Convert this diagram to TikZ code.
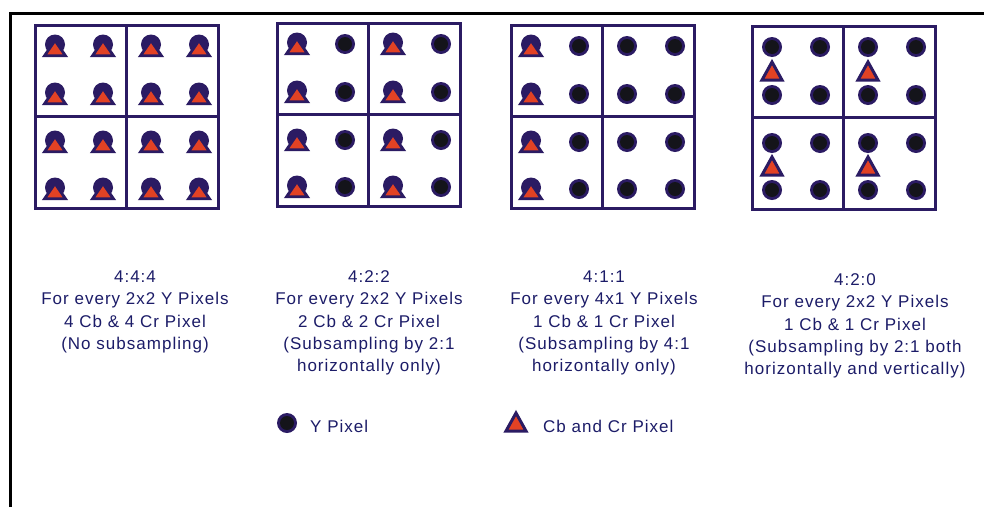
\documentclass[tikz,border=0pt]{standalone}
\usepackage{fontspec}
\newfontfamily\lblfont[LetterSpace=6]{Liberation Sans}
\definecolor{navy}{RGB}{43,27,99}
\definecolor{chroma}{RGB}{226,66,36}
\definecolor{dotblack}{RGB}{20,20,26}
\definecolor{txtblue}{RGB}{28,28,104}
\tikzset{
  gridline/.style={draw=navy, line width=3pt},
  frameline/.style={draw=black, line width=3pt},
  lbl/.style={font=\lblfont\fontsize{17}{22.3}\selectfont, text=txtblue, align=center, inner sep=0pt},
  leg/.style={font=\lblfont\fontsize{17}{22.3}\selectfont, text=txtblue, inner sep=0pt, anchor=west},
  tri/.style={draw=navy, fill=chroma, line width=3pt, line join=miter},
}
\newcommand{\pixY}[2]{\fill[navy] (#1,#2) circle (10pt); \fill[dotblack] (#1,#2) circle (7pt);}
\newcommand{\pixC}[2]{\filldraw[tri] ({#1-10},{#2+9}) -- ({#1+10},{#2+9}) -- (#1,{#2-9}) -- cycle;}
\newcommand{\pixYC}[2]{\fill[navy] (#1,{#2-1.5}) circle (10pt);
  \filldraw[tri, line width=2.8pt] ({#1-10.5},{#2+9.8}) -- ({#1+10.5},{#2+9.8}) -- (#1,{#2-5.5}) -- cycle;}
\newcommand{\gridbox}[2]{\draw[gridline] (#1,#2) rectangle ({#1+183},{#2+183});
  \draw[gridline] ({#1+91.5},#2) -- ({#1+91.5},{#2+183});
  \draw[gridline] (#1,{#2+91.5}) -- ({#1+183},{#2+91.5});}
\begin{document}
\begin{tikzpicture}[x=1pt,y=-1pt]
\useasboundingbox[fill=white] (0,0) rectangle (984,507);
\draw[frameline] (10,507) -- (10,13.5) -- (984,13.5);
% grid 1 : 4:4:4
\gridbox{35}{25}
\foreach \dx in {20,68,116,164}{\foreach \dy in {21,69,117,164}{\pixYC{35+\dx}{25+\dy}}}
% grid 2 : 4:2:2
\gridbox{277}{23}
\foreach \i/\dx in {1/20,2/68,3/116,4/164}{\foreach \dy in {21,69,117,164}{
  \ifodd\i \pixYC{277+\dx}{23+\dy} \else \pixY{277+\dx}{23+\dy} \fi}}
% grid 3 : 4:1:1
\gridbox{511}{25}
\foreach \i/\dx in {1/20,2/68,3/116,4/164}{\foreach \dy in {21,69,117,164}{
  \ifnum\i=1 \pixYC{511+\dx}{25+\dy} \else \pixY{511+\dx}{25+\dy} \fi}}
% grid 4 : 4:2:0
\gridbox{752}{26}
\foreach \dx in {20,68,116,164}{\foreach \dy in {21,69,117,164}{\pixY{752+\dx}{26+\dy}}}
\foreach \dx in {20,116}{\foreach \dy in {45,140}{\pixC{752+\dx}{26+\dy}}}
% captions
\node[lbl, anchor=north] (t444) at (135,270.5) {4:4:4\\For every 2x2 Y Pixels\\4 Cb \& 4 Cr Pixel\\(No subsampling)};
\node[lbl, anchor=north] (t422) at (369,270.5) {4:2:2\\For every 2x2 Y Pixels\\2 Cb \& 2 Cr Pixel\\(Subsampling by 2:1\\horizontally only)};
\node[lbl, anchor=north] (t411) at (604,270.5) {4:1:1\\For every 4x1 Y Pixels\\1 Cb \& 1 Cr Pixel\\(Subsampling by 4:1\\horizontally only)};
\node[lbl, anchor=north] (t420) at (855,273.5) {4:2:0\\For every 2x2 Y Pixels\\1 Cb \& 1 Cr Pixel\\(Subsampling by 2:1 both\\horizontally and vertically)};
% legend
\pixY{287}{423}
\node[leg] (ly) at (310,426) {Y Pixel};
\pixC{516}{422}
\node[leg] (lc) at (543,426) {Cb and Cr Pixel};
\end{tikzpicture}
\end{document}
